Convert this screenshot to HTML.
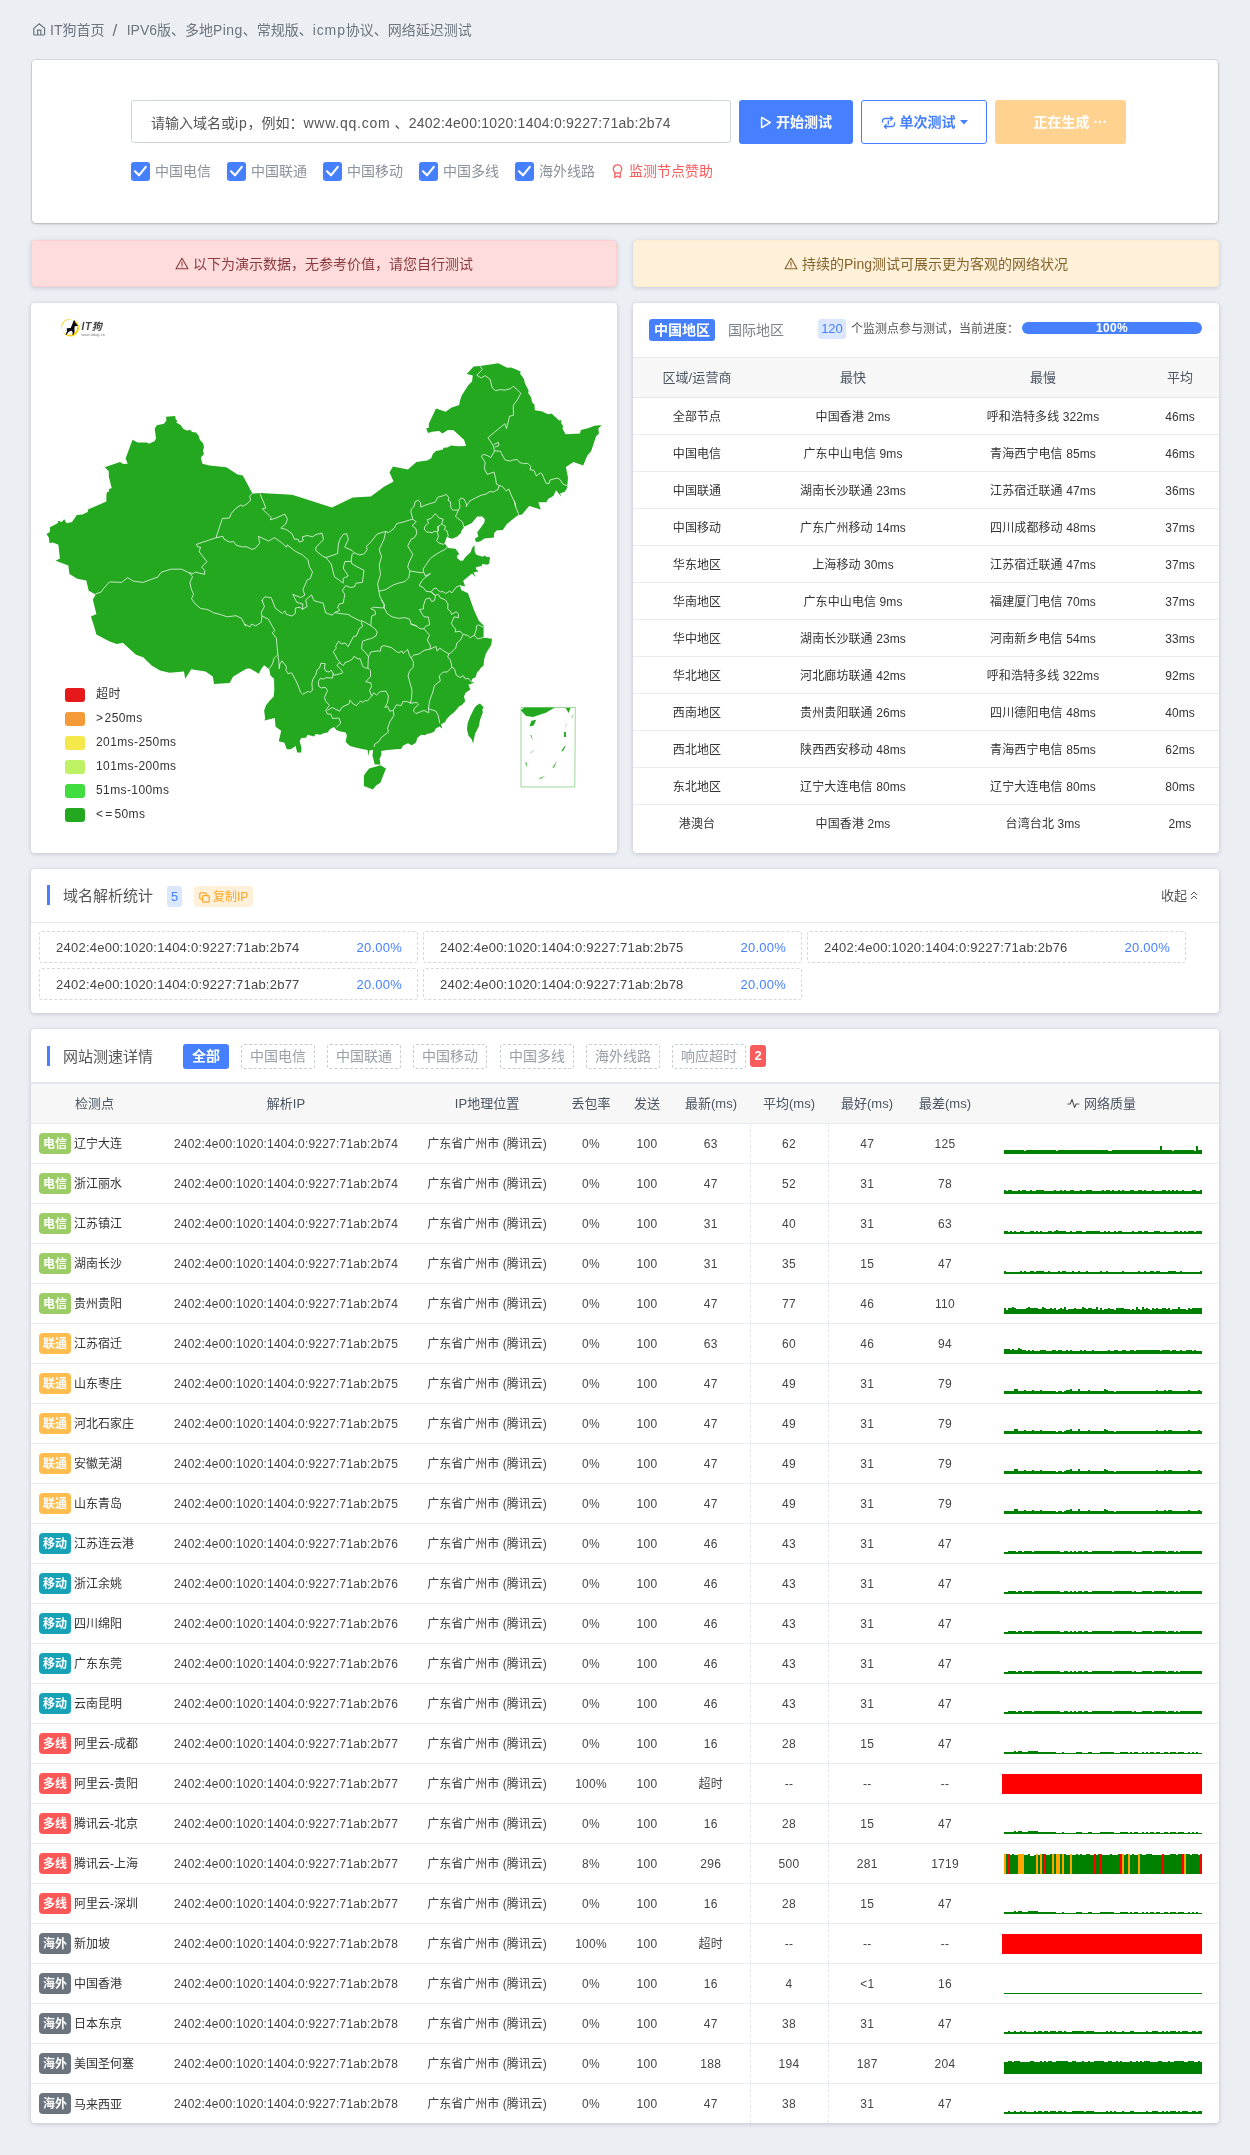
<!DOCTYPE html><html lang="zh-CN"><head><meta charset="utf-8"><title>IPV6 Ping</title><style>
*{box-sizing:border-box;margin:0;padding:0}
html,body{width:1250px;height:2155px;overflow:hidden}
body{will-change:transform;background:#ebeef3;font-family:"Liberation Sans","Noto Sans CJK SC",sans-serif;font-size:13px;color:#333;position:relative}
.abs{position:absolute}
.card{position:absolute;background:#fff;border-radius:4px;box-shadow:0 1px 4px rgba(110,120,145,.36)}
.in{position:absolute;left:1px;top:0;right:1px;bottom:0}
.bc{position:absolute;left:32px;top:20px;height:20px;line-height:20px;font-size:14px;color:#6c757d;white-space:nowrap}
.bc svg{position:absolute;left:1px;top:3px}
.inp{position:absolute;left:99px;top:40px;width:600px;height:43px;border:1px solid #ced4da;border-radius:3px;font-size:14px;line-height:44px;padding-left:19px;color:#555;white-space:nowrap}
.btn{position:absolute;top:40px;height:44px;line-height:45px;font-weight:bold;border-radius:3px;font-size:14px;text-align:center;white-space:nowrap}
.b1{left:707px;width:114px;background:#4680ff;color:#fff}
.b2{left:829px;width:126px;border:1px solid #4680ff;color:#4680ff;line-height:43px}
.b3{left:963px;width:131px;background:#ffd28f;color:#fff}
.chk{position:absolute;top:102px;height:19px;line-height:19px;font-size:14px;color:#8a929b;white-space:nowrap}
.chk i{position:absolute;left:0;top:0;width:19px;height:19px;border-radius:3px;background:#4680ff}
.chk span{position:absolute;left:24px;top:0}
.alert{position:absolute;top:240px;height:47px;line-height:47px;width:586px;border-radius:4px;text-align:center;font-size:14px;white-space:nowrap;box-shadow:0 1px 4px rgba(110,120,145,.3)}
.a1{left:31px;background:#fedcdc;color:#8b3a3f;border:1px solid #fbd0d0}
.a2{left:633px;background:#fff0d9;color:#85632a;border:1px solid #fdebcf}
.lg{position:absolute;left:33px;width:20px;height:14px;border-radius:3px}
.lt{position:absolute;left:64px;font-size:12px;line-height:14px;color:#333;white-space:nowrap;letter-spacing:.4px}
.st{position:absolute;left:0;top:54px;width:586px;border-collapse:collapse;table-layout:fixed;font-size:12px;line-height:20px;text-align:center;letter-spacing:.1px}
.st th{height:40px;background:#f7f7f8;font-weight:normal;color:#4a5562;font-size:13px;border-top:1px solid #e6eaf0;border-bottom:1px solid #e6eaf0}
.st td{height:37px;padding-top:2px;border-bottom:1px solid #e9ecf1;color:#333}
.st tr:last-child td{border-bottom:none}
.ttl{position:absolute;left:15px;width:3px;height:20px;background:#4680ff}
.tt{position:absolute;left:31px;font-size:15px;line-height:22px;color:#555;white-space:nowrap}
.ipb{position:absolute;width:379px;height:32px;border:1px dashed #d5d9df;border-radius:3px;font-size:13px;line-height:31px;white-space:nowrap;letter-spacing:.24px}
.ipb span{position:absolute;left:16px;top:0;color:#444}
.ipb b{position:absolute;right:15px;top:0;color:#4680ff;font-weight:normal}
.fb{position:absolute;top:15px;height:25px;line-height:23px;width:74px;border:1px dashed #c8cdd4;border-radius:3px;color:#98a0a8;font-size:14px;text-align:center;white-space:nowrap}
.mt{position:absolute;left:-1px;top:53px;width:1188px;border-collapse:collapse;table-layout:fixed;font-size:12px;line-height:20px;text-align:center}
.mt th{height:40px;background:#f7f7f8;font-weight:normal;color:#4a5562;font-size:13px;border-top:2px solid #e4e8ee;border-bottom:1px solid #e6eaf0;white-space:nowrap;padding:2px 0 0}
.mt td{height:40px;border-bottom:1px solid #e9ecf1;color:#444;white-space:nowrap;padding:2px 0 0;position:relative}
.mt tr:last-child td{border-bottom:none}
.mt td.n{text-align:left;padding-left:8px;color:#333}
.mt td.ip{letter-spacing:.2px}
.mt td.nu{letter-spacing:.25px}
.mt td.d{border-left:1px dashed #e3e7ee;border-right:1px dashed #e3e7ee}
.bd{display:inline-block;width:32px;height:21px;line-height:23.4px;overflow:hidden;border-radius:4px;color:#fff;font-weight:bold;font-size:12px;text-align:center;margin-right:3px;vertical-align:middle;position:relative;top:-1px}
.nm{vertical-align:middle}
.g1{background:#9ccc65}.g2{background:#ffbc4f}.g3{background:#17a2b8}.g4{background:#fa5757}.g5{background:#6c757d}
.sp{position:absolute;left:18px;top:-1px;display:block}
</style></head><body>
<div class="bc"><svg width="13" height="13" viewBox="0 0 13 13" fill="none" stroke="#6c757d" stroke-width="1.2"><path d="M.8 5.4 L6.2 .8 L11.6 5.4 V11 Q11.6 12 10.6 12 H1.8 Q.8 12 .8 11 Z"/><path d="M4.6 12 V7.2 H7.8 V12"/></svg><span style="margin-left:18px">IT狗首页</span><span style="margin:0 9.5px 0 8px;font-size:17px;position:relative;top:1px">/</span><span>IPV6版、多地<span style="letter-spacing:.4px">Ping</span>、常规版、<span style="letter-spacing:.9px">icmp</span>协议、网络延迟测试</span></div>
<div class="card" style="left:32px;top:60px;width:1186px;height:163px;box-shadow:0 0 0 .6px rgba(0,0,0,.13),0 1px 3px rgba(60,60,70,.28)">
<div class="inp">请输入域名或<span style="letter-spacing:.8px">ip</span>，例如：<span style="letter-spacing:.75px">www.qq.com</span><span style="letter-spacing:.25px"> 、2402:4e00:1020:1404:0:9227:71ab:2b74</span></div>
<div class="btn b1"><svg width="12" height="13" viewBox="0 0 12 13" style="vertical-align:-1.5px;margin-right:4px" fill="none" stroke="#fff" stroke-width="1.5" stroke-linejoin="round"><path d="M1.6 1.4 L10.2 6.5 L1.6 11.6 Z"/></svg>开始测试</div>
<div class="btn b2"><svg width="15" height="13" viewBox="0 0 15 13" style="vertical-align:-2px;margin-right:4px" fill="none" stroke="#4680ff" stroke-width="1.4" stroke-linecap="round"><path d="M1.5 6 V5 A2.5 2.5 0 0 1 4 2.5 H11.5 M9.8 0.8 L11.6 2.5 L9.8 4.2"/><path d="M13.5 7 V8 A2.5 2.5 0 0 1 11 10.5 H3.5 M5.2 8.8 L3.4 10.5 L5.2 12.2"/><path d="M7.3 5 V8"/></svg>单次测试<svg width="8" height="5" viewBox="0 0 8 5" style="vertical-align:2px;margin-left:4px"><path d="M0 0 H8 L4 4.5 Z" fill="#4680ff"/></svg></div>
<div class="btn b3" style="padding-left:20px">正在生成 ···</div>
<div class="chk" style="left:99px"><i><svg width="19" height="19" viewBox="0 0 19 19" fill="none" stroke="#fff" stroke-width="2.1" stroke-linecap="round" stroke-linejoin="round"><path d="M4 9.3 L8 13.3 L14.8 4.9"/></svg></i><span>中国电信</span></div>
<div class="chk" style="left:195px"><i><svg width="19" height="19" viewBox="0 0 19 19" fill="none" stroke="#fff" stroke-width="2.1" stroke-linecap="round" stroke-linejoin="round"><path d="M4 9.3 L8 13.3 L14.8 4.9"/></svg></i><span>中国联通</span></div>
<div class="chk" style="left:291px"><i><svg width="19" height="19" viewBox="0 0 19 19" fill="none" stroke="#fff" stroke-width="2.1" stroke-linecap="round" stroke-linejoin="round"><path d="M4 9.3 L8 13.3 L14.8 4.9"/></svg></i><span>中国移动</span></div>
<div class="chk" style="left:387px"><i><svg width="19" height="19" viewBox="0 0 19 19" fill="none" stroke="#fff" stroke-width="2.1" stroke-linecap="round" stroke-linejoin="round"><path d="M4 9.3 L8 13.3 L14.8 4.9"/></svg></i><span>中国多线</span></div>
<div class="chk" style="left:483px"><i><svg width="19" height="19" viewBox="0 0 19 19" fill="none" stroke="#fff" stroke-width="2.1" stroke-linecap="round" stroke-linejoin="round"><path d="M4 9.3 L8 13.3 L14.8 4.9"/></svg></i><span>海外线路</span></div>
<div class="chk" style="left:580px;color:#fa5c5c"><svg width="11" height="15" viewBox="0 0 11 15" style="position:absolute;left:0;top:2px" fill="none" stroke="#fa5c5c" stroke-width="1.3" stroke-linejoin="round"><circle cx="5.5" cy="5" r="4.2"/><path d="M2.8 8.2 V13.5 L5.5 12 L8.2 13.5 V8.2"/></svg><span style="left:17px">监测节点赞助</span></div>
</div>
<div class="alert a1"><svg width="14" height="13" viewBox="0 0 14 13" style="vertical-align:-1px;margin-right:4px" fill="none" stroke="currentColor" stroke-width="1.1" stroke-linejoin="round" stroke-linecap="round"><path d="M7 1.2 L13 11.8 H1 Z"/><path d="M7 5 V8.2 M7 9.8 V10"/></svg>以下为演示数据，无参考价值，请您自行测试</div>
<div class="alert a2"><svg width="14" height="13" viewBox="0 0 14 13" style="vertical-align:-1px;margin-right:4px" fill="none" stroke="currentColor" stroke-width="1.1" stroke-linejoin="round" stroke-linecap="round"><path d="M7 1.2 L13 11.8 H1 Z"/><path d="M7 5 V8.2 M7 9.8 V10"/></svg>持续的Ping测试可展示更为客观的网络状况</div>
<div class="card" style="left:31px;top:303px;width:586px;height:550px;overflow:hidden"><div class="in">
<svg class="abs" style="left:0;top:0" width="585" height="550" viewBox="0 0 585 550">
<g fill="#24a820" stroke="none">
<polygon points="134.1,113.8 143.2,113.0 143.7,116.5 145.3,117.8 144.3,119.4 148.8,122.3 151.2,125.8 154.4,127.4 158.4,126.9 160.0,129.0 164.0,129.5 166.4,132.2 168.0,137.0 171.2,140.5 172.0,144.2 170.9,147.9 172.0,151.1 168.8,154.6 170.4,160.7 177.6,162.6 194.4,164.2 205.6,171.4 210.8,172.6 220.4,190.6 228.8,190.1 260.0,191.8 272.0,195.4 293.6,202.6 300.0,204.5 320.8,194.6 338.8,193.4 352.0,183.8 361.6,178.5 357.5,169.4 360.9,163.4 376.0,166.5 384.4,159.1 395.2,157.6 399.2,155.2 400.8,150.9 404.0,148.0 410.4,146.7 411.7,144.8 415.2,144.5 419.2,142.4 426.4,143.2 434.1,142.9 432.0,136.8 421.6,127.2 416.0,126.9 410.4,130.4 407.2,128.0 400.0,128.8 396.0,130.1 394.1,125.6 396.8,124.8 396.8,120.8 404.0,105.6 413.6,108.8 419.2,104.8 427.2,101.9 427.7,98.4 429.6,92.8 436.0,82.4 440.0,78.4 440.8,72.5 434.7,70.9 441.6,63.5 448.0,62.9 466.4,60.3 475.2,64.8 479.2,64.5 484.8,66.7 488.8,68.8 488.0,70.4 492.0,76.0 492.8,80.0 496.8,88.0 496.0,89.6 499.2,94.4 500.0,99.2 502.4,101.6 502.9,107.2 509.6,108.3 516.0,111.2 519.5,110.4 527.2,117.6 529.6,117.3 529.1,120.0 531.2,123.2 530.4,125.6 533.6,131.2 548.0,130.4 548.8,126.9 556.0,125.3 562.4,122.7 569.6,122.1 566.4,125.6 566.9,130.4 564.0,133.6 559.2,148.0 555.2,152.8 551.2,162.4 541.6,158.9 533.9,164.0 536.0,174.4 535.2,184.8 532.8,188.8 528.0,190.4 529.6,194.1 524.0,187.2 521.6,192.8 516.0,196.0 514.4,199.2 506.4,199.2 508.7,206.6 497.2,203.0 490.0,211.4 486.0,212.2 484.8,213.0 474.8,221.0 470.8,227.0 464.4,227.4 462.0,230.6 462.0,234.6 452.4,235.4 448.0,238.6 444.0,239.0 442.8,235.8 446.4,233.4 445.2,229.4 452.4,219.4 452.8,216.2 450.4,213.4 445.2,213.4 439.6,220.2 432.4,223.4 429.6,227.4 428.8,230.2 425.2,233.4 420.4,235.8 416.0,234.6 415.2,233.0 412.8,239.4 412.8,240.6 416.0,245.0 423.6,245.8 427.2,251.0 424.8,253.0 425.6,255.4 428.4,257.8 431.2,257.4 433.2,254.2 438.8,249.0 440.0,245.0 442.4,242.2 442.8,249.0 444.4,251.8 450.8,253.8 453.2,252.2 454.0,253.8 458.0,254.2 457.2,260.6 455.6,261.8 450.4,261.0 449.6,263.0 444.0,264.2 444.0,266.2 446.8,268.2 441.6,269.4 443.6,274.2 440.0,270.6 431.2,277.8 433.2,283.4 428.0,282.2 429.2,287.0 436.0,290.2 442.0,307.0 446.8,317.8 451.6,322.6 451.6,334.6 460.0,335.8 459.3,341.8 454.0,350.2 452.0,357.0 451.6,362.6 448.0,365.8 447.2,367.4 445.2,369.0 443.6,374.2 440.4,375.8 439.6,378.2 442.0,379.8 436.4,381.8 438.4,386.6 433.6,389.8 432.0,393.4 433.2,398.6 428.8,403.0 428.0,402.6 422.4,409.0 419.2,411.4 414.8,415.8 413.2,419.0 409.6,421.0 408.8,421.0 410.4,425.4 407.2,423.4 403.6,425.8 402.4,428.6 398.8,430.2 394.4,431.0 393.6,432.2 389.2,431.8 385.2,435.0 384.4,438.6 383.2,440.2 379.6,442.2 376.0,440.2 371.2,442.6 369.2,445.8 368.0,446.2 366.8,445.9 355.6,447.0 349.2,448.1 349.5,451.8 347.6,455.8 348.4,461.4 342.8,461.4 340.4,452.6 341.2,447.0 337.2,447.5 336.4,453.4 335.6,447.0 330.0,445.9 323.6,444.6 318.0,443.0 313.7,439.0 314.8,432.6 313.7,429.4 307.6,428.3 304.4,427.0 302.0,424.1 298.0,426.2 295.6,429.4 291.6,430.2 288.4,431.8 283.6,431.0 282.0,433.4 275.6,431.8 274.0,434.7 269.2,435.0 267.6,438.2 269.5,444.6 269.2,449.4 265.2,449.4 263.6,443.0 258.8,446.2 254.8,446.2 252.4,439.8 246.8,438.2 249.2,427.8 243.6,423.8 242.8,415.0 232.4,417.4 233.2,415.0 232.1,407.8 234.0,402.2 237.2,398.2 241.7,393.4 242.3,387.0 242.0,375.8 238.5,372.6 237.2,366.2 232.1,362.2 229.2,365.9 226.8,370.7 218.0,365.4 214.4,365.7 201.2,373.4 197.6,379.9 182.0,381.1 180.8,373.4 173.6,368.6 159.2,366.2 153.2,375.8 152.0,368.6 137.6,369.8 128.0,367.4 119.6,362.6 111.2,354.2 104.0,351.8 90.8,339.8 84.8,341.0 77.6,338.6 64.4,331.4 62.0,323.0 58.9,313.4 64.4,311.0 60.8,296.6 63.7,291.4 56.7,287.8 54.3,277.5 45.2,275.8 37.5,271.0 36.3,262.6 23.6,257.8 27.9,255.4 26.4,241.8 20.8,239.4 17.6,240.2 16.8,234.6 14.4,231.1 17.9,229.0 17.9,224.2 25.6,220.2 26.4,217.8 29.6,218.9 32.3,216.2 34.4,220.2 40.0,218.9 44.8,211.9 50.4,211.6 55.7,209.0 56.0,206.6 74.4,198.6 74.4,191.4 75.2,189.0 77.1,188.5 76.8,186.3 79.7,185.0 76.8,173.8 76.8,168.2 72.8,164.2 88.0,158.9 91.2,161.0 95.7,160.7 93.6,155.4 100.5,136.7 105.6,139.4 115.2,139.4 116.8,140.7 122.4,138.3 124.0,135.4 122.7,125.8 124.8,122.3 132.0,120.7 134.4,117.5"/>
<polygon points="337.2,465.4 348.4,462.2 354.0,465.4 350.8,473.4 348.4,479.8 344.4,482.2 340.9,486.5 331.9,483.0 331.9,472.6 334.0,469.4"/>
<polygon points="448.0,400.6 451.6,404.2 450.4,406.6 450.8,409.4 448.0,417.0 446.8,423.4 443.2,430.6 442.0,435.8 441.2,440.6 439.6,436.2 436.4,432.6 435.0,426.6 435.6,420.2 438.4,413.0 442.4,405.0 444.8,402.2"/>
</g>
<g fill="none" stroke="#fff" stroke-opacity=".85" stroke-width=".85" stroke-linejoin="round">
<polyline points="158.0,270.3 149.6,266.2 138.8,266.2 129.2,269.3 125.6,274.1 111.2,279.4 101.6,278.2 95.6,274.6 89.6,279.4 77.6,278.9 71.6,285.4 69.2,289.0 63.7,290.9"/>
<polyline points="447.9,63.1 450.5,66.3 444.7,72.2 449.2,74.9 453.2,72.7 458.0,76.2 460.4,85.0 463.6,87.7 468.4,86.6 473.2,87.1 478.8,85.5 481.2,83.1 485.2,86.6 488.9,90.3 485.7,96.2 481.2,102.6 481.5,112.2 477.5,113.3 474.5,125.5 472.9,120.7 455.9,134.6 461.2,142.6 462.5,147.9"/>
<polyline points="461.2,142.6 462.8,141.0 466.5,139.4 466.8,142.6 462.8,144.2"/>
<polyline points="462.5,147.9 468.4,148.2 470.8,153.0 473.2,157.0 478.0,158.1 481.2,157.0 485.2,156.5 487.6,159.4 491.6,160.7 495.6,160.2 498.8,163.4 498.0,166.6 502.0,167.4 504.4,173.0 508.4,169.8 510.0,170.9 514.0,180.2 517.2,180.5 518.0,177.0 523.6,175.4 526.0,175.1 528.4,177.0 530.8,181.0 534.8,182.6 535.9,181.5"/>
<polyline points="462.5,147.9 458.8,154.6 455.6,152.7 451.6,151.4 449.2,153.0 453.2,159.4 452.4,165.8 455.3,171.4 462.0,169.0 463.6,175.4 464.4,181.0 467.1,182.6"/>
<polyline points="467.1,182.6 470.3,183.4 474.5,188.2 476.7,185.8 479.6,193.0 482.8,199.4 483.6,204.0"/>
<polyline points="467.1,182.6 466.0,186.6 461.2,189.0 458.0,188.5 454.0,191.1 449.2,192.2 443.6,194.9 438.0,197.8 435.1,201.8 434.0,204.0"/>
<polyline points="220.3,190.6 217.6,193.0 218.7,197.0 214.9,201.0 210.4,203.4 209.1,201.8 203.2,205.8 199.2,210.6 197.3,215.1 190.4,215.4 187.2,225.0 184.5,233.0 184.5,234.6"/>
<polyline points="184.5,234.6 164.5,241.3 165.6,243.9 168.5,244.2 167.2,248.7 174.9,258.6 169.6,264.2 172.8,267.4 172.3,271.4 163.2,269.0 161.6,270.6 157.6,269.8"/>
<polyline points="157.6,269.8 160.5,273.8 157.9,279.4 159.2,285.8 161.6,291.4 159.5,295.7 163.2,301.0 168.8,305.5 176.0,306.6 181.6,309.8 188.0,311.4 195.2,313.8 204.0,312.7 209.6,315.4 213.6,323.4"/>
<polyline points="184.5,234.6 190.9,233.3 192.0,236.2 197.6,239.1 201.6,238.6 204.3,242.3 210.4,243.9 215.2,243.9 219.7,246.3 223.2,245.5 227.7,240.2 226.4,233.3 236.8,238.1 242.4,234.6 250.4,240.2 254.4,244.2 255.2,241.8 263.2,248.2 270.4,251.9 276.0,257.0 277.3,263.4 280.5,269.0 278.4,275.4 275.2,277.0 270.9,286.6 272.8,292.2 268.8,294.6 260.8,291.4 264.8,299.4 270.9,301.0 270.4,306.3 275.2,303.4 273.6,297.0 279.5,291.9 282.1,297.8 291.2,300.2 293.6,309.8 300.0,312.2 302.9,309.5"/>
<polyline points="228.0,190.6 233.9,205.0 230.4,205.8 239.2,214.6 238.4,216.7 243.2,215.4 252.8,211.1 255.5,216.2 253.6,221.0 248.8,225.0 254.4,226.6 260.0,230.6 262.4,236.2 266.1,236.2 267.2,239.1 271.2,237.8 270.4,233.8 275.2,232.5 280.8,233.8 284.0,231.4 290.1,230.3 291.5,236.5 284.0,244.2 283.7,247.4 290.4,253.0 293.9,254.6"/>
<polyline points="293.9,254.6 305.6,250.6 306.4,241.0 308.0,236.2 311.2,231.4 314.7,230.6 316.3,236.2 312.8,244.2 320.0,247.4 322.4,249.8 320.0,251.4 319.2,258.3 312.8,258.6 311.2,265.0 313.6,269.0 316.3,273.0 311.2,275.4 311.2,280.2 306.1,276.2 302.4,273.8 299.2,261.0 293.9,254.6"/>
<polyline points="322.4,249.8 328.0,252.2"/>
<polyline points="319.2,258.3 320.0,261.0 332.0,267.4 330.4,279.4 324.0,280.2 322.4,283.9 318.4,284.5 313.6,282.6 310.4,287.4 312.8,291.4 311.2,300.2 307.2,301.0 305.6,305.0 308.0,307.4 302.9,309.5"/>
<polyline points="302.9,309.5 308.0,310.6 316.0,311.4 320.8,314.3 328.0,317.8"/>
<polyline points="229.6,297.8 232.8,293.8 239.2,294.6 243.2,305.0 250.4,310.6 252.8,307.9 254.4,311.4 260.0,313.0 263.2,310.6 263.5,305.0 268.0,304.2 270.4,306.3"/>
<polyline points="353.6,228.5 356.8,229.5 362.4,225.0 364.8,220.5 372.0,218.9 377.6,217.0 380.8,216.2 378.9,209.0 379.5,205.5 382.1,203.4 383.2,198.6 386.4,197.3 388.5,199.4 388.8,204.2 392.0,202.6 397.6,200.7 403.2,199.1 405.6,194.3 411.2,192.7 414.4,191.4 416.8,194.6 416.0,197.5 418.4,198.6 418.9,205.0 420.8,207.1 426.4,207.1 428.0,204.2 427.2,197.5 429.1,194.9 432.3,196.2 434.9,202.3"/>
<polyline points="482.4,197.8 484.0,205.0 486.4,210.6 486.7,211.9"/>
<polyline points="426.4,207.1 423.5,213.5 430.4,218.9 432.0,224.2"/>
<polyline points="353.6,228.5 352.0,236.2 347.2,246.6 349.6,253.8 347.2,261.8 348.5,271.4 345.6,281.0 346.9,288.2"/>
<polyline points="380.8,216.2 384.3,218.9 380.0,222.6 384.0,225.8 384.8,230.6 382.4,234.6 379.2,236.2 375.7,242.9 378.4,247.4 380.8,251.4 376.8,260.2 375.7,264.2 377.9,267.9"/>
<polyline points="346.9,288.2 353.6,286.6 361.6,281.8 366.4,280.2 372.8,278.6 376.8,274.6 377.9,267.9"/>
<polyline points="377.9,267.9 384.0,269.0 389.6,269.8 391.7,269.0"/>
<polyline points="391.7,269.0 391.2,265.8 395.2,260.2 398.4,255.4 403.2,251.9 408.0,249.0 412.8,246.6 415.7,243.9"/>
<polyline points="403.2,210.6 399.2,215.4 395.2,216.7 396.5,220.2 392.8,223.4 392.3,226.6 394.9,229.0 400.8,229.8 401.9,228.2 404.8,229.0 406.4,227.4 405.6,223.4 408.0,222.6 409.6,221.0 411.2,216.2 407.2,215.1 403.2,210.6"/>
<polyline points="406.4,223.4 405.6,229.8 406.4,233.8 404.5,237.8 407.2,240.2 411.2,241.3 413.6,240.2"/>
<polyline points="409.6,221.0 412.0,222.6 413.6,223.4 412.5,226.6 415.2,228.2 416.0,232.2 416.8,233.3"/>
<polyline points="391.7,269.0 393.3,273.0 398.4,270.6 392.8,274.6 389.6,278.1 387.2,282.6 391.2,284.5 393.9,288.2 399.2,289.0"/>
<polyline points="346.9,288.2 348.0,293.8 352.0,301.0 352.3,305.0 355.2,310.6 360.0,313.8 366.4,315.4 372.8,314.6 377.6,316.2 379.2,321.0 384.8,323.4"/>
<polyline points="328.0,251.9 332.0,250.9 335.2,246.6 334.4,243.4 339.2,238.6 344.8,231.4 348.8,229.8 353.6,228.5"/>
<polyline points="212.4,321.0 218.0,323.9 219.6,321.0 223.6,322.9 229.2,319.4 230.0,313.0"/>
<polyline points="230.0,313.0 229.2,309.8 232.4,303.4 230.0,297.0"/>
<polyline points="230.0,313.0 236.4,316.2 240.4,323.4 242.8,327.4 240.4,329.8 244.4,335.4 245.2,345.0 246.0,353.0 246.8,358.6 247.3,365.8"/>
<polyline points="245.2,352.2 242.0,355.4 240.4,361.0 237.2,365.8"/>
<polyline points="247.3,365.8 247.9,361.0 250.0,357.8 254.3,363.4 254.0,367.4 255.9,370.6 259.6,369.8 263.6,377.0 266.8,384.2 268.4,389.0 270.8,391.4 276.4,388.2 277.7,389.5 280.4,387.4 279.9,380.2 280.9,376.2 283.6,372.2 285.2,366.6 287.6,365.0 288.9,360.2 293.2,360.7 292.4,365.0 293.7,368.2 297.2,369.0 299.1,367.1 301.2,370.6 300.4,375.1 294.0,374.6 291.6,376.2 288.4,375.4 286.3,378.6 286.8,383.4 289.2,385.0 293.2,384.2 295.6,387.4 292.4,394.6 294.0,398.6 297.5,402.3 295.3,405.0 293.7,407.4 295.3,410.9"/>
<polyline points="301.2,370.6 302.0,372.2 310.0,370.3 310.8,369.3 308.4,365.8 304.9,362.6 307.1,359.4 311.3,362.6 313.2,359.4 316.1,358.6 320.4,356.2 322.0,353.3 326.0,355.9 327.9,355.4 330.8,363.4 333.2,365.0 335.9,365.0"/>
<polyline points="308.4,359.4 305.5,356.5 302.8,351.4 301.2,349.0 304.4,345.0 303.6,343.4 306.5,338.3 310.0,341.0 313.2,339.9 316.1,343.7 319.6,337.0 321.5,333.5 324.4,333.0 327.3,325.8 330.5,323.4 328.9,317.5"/>
<polyline points="328.9,317.5 333.2,319.4 338.8,322.6 339.6,313.0 343.6,311.4 342.8,307.4 338.8,305.8 341.2,304.2 351.6,305.0 352.4,301.8 349.2,297.0"/>
<polyline points="338.8,322.6 342.8,325.8 345.2,329.0 343.9,333.0 339.6,335.4 334.8,336.7 330.5,338.3 329.5,345.8 333.2,349.0 336.4,353.8"/>
<polyline points="336.4,353.8 335.9,365.0"/>
<polyline points="336.4,353.8 338.8,349.0 345.2,347.9 348.4,348.2 349.2,343.7 351.9,342.6 359.6,344.7 364.4,348.5 366.8,349.8 370.0,347.9 371.1,350.6 375.6,346.3 377.2,351.4 378.8,354.9"/>
<polyline points="335.9,365.0 338.5,367.4 338.5,373.8 333.7,378.6 338.8,379.9 339.6,383.4 337.5,387.4 339.1,391.4 339.6,393.0"/>
<polyline points="295.3,407.4 300.4,404.5 307.6,408.2 310.0,404.2 317.2,400.7 318.0,397.0 321.2,401.0 324.4,402.6 328.4,398.1 330.8,399.4 333.2,397.5 335.6,397.8 339.6,393.0"/>
<polyline points="339.6,393.0 342.0,389.8 344.4,392.2 348.4,388.5 354.0,388.2 356.4,393.0 355.6,399.4 352.9,404.5 355.6,403.4 357.7,408.2 361.2,407.4"/>
<polyline points="295.3,410.9 299.1,411.4 300.4,415.4 307.1,415.1 308.7,420.2 304.4,424.2"/>
<polyline points="361.2,407.4 362.0,412.2 358.0,418.6 355.6,425.0 356.4,429.0 349.2,434.6 346.8,438.6 342.8,441.0 342.0,444.0"/>
<polyline points="361.2,407.4 364.4,401.8 369.2,402.6 370.8,398.6 375.6,398.6 378.8,400.2"/>
<polyline points="399.2,289.0 401.6,285.8 404.0,285.0 408.0,289.0 410.9,288.5 413.6,290.6 417.6,288.2 420.0,289.8 424.0,284.2 428.0,282.6 428.8,283.7"/>
<polyline points="399.2,289.0 403.2,292.2 406.4,291.4 408.0,294.6 413.6,297.0 416.0,301.0 415.7,305.8 418.9,309.0 419.5,311.4 424.3,308.7 426.4,310.9 426.4,314.6 422.1,313.8 420.8,317.0 419.2,319.9 421.6,324.2 423.7,325.8 423.2,329.0 428.0,328.2 431.2,331.4"/>
<polyline points="399.2,289.0 403.5,293.0 402.4,297.5 399.7,298.6 397.6,294.9 393.6,296.2 391.2,303.4 391.7,305.8 387.5,306.6 390.4,311.4 392.0,313.8 396.5,314.1 397.6,321.8 393.6,323.4 392.0,325.8"/>
<polyline points="378.4,321.0 384.0,322.6 388.0,325.8 392.0,325.8"/>
<polyline points="392.0,325.8 397.6,332.2 395.2,337.0 398.4,342.6 398.1,346.1"/>
<polyline points="431.2,331.4 428.5,337.0 424.8,340.2 423.7,345.0 418.9,349.8 416.8,350.9"/>
<polyline points="398.1,346.1 404.0,343.4 405.1,348.2 407.7,345.0 410.9,347.4 416.8,350.9"/>
<polyline points="431.2,331.4 435.2,332.2 438.4,334.6 442.4,332.2 444.5,325.8 444.0,323.4 446.4,321.8 451.2,324.2"/>
<polyline points="442.4,332.2 445.6,335.9 451.2,334.6 455.2,333.8"/>
<polyline points="398.1,346.1 392.0,347.4 387.2,350.9 381.6,352.2 379.2,354.6"/>
<polyline points="379.2,354.6 381.6,359.4 381.1,364.2 377.6,368.2 376.0,373.0 377.9,379.4 380.0,387.4 379.5,395.4 378.4,400.2"/>
<polyline points="416.8,350.9 415.7,353.8 418.4,357.0 420.0,364.2"/>
<polyline points="420.0,364.2 422.4,365.8 424.3,372.2 428.0,374.6 431.2,372.7 433.3,375.9 436.0,375.4 440.3,379.4"/>
<polyline points="420.0,364.2 415.2,369.0 411.2,369.0 407.2,373.0 408.3,377.8 402.4,382.6 400.8,389.0 397.6,397.8 396.5,405.0 396.8,409.8"/>
<polyline points="378.4,400.2 384.8,399.4 386.4,401.8 382.4,405.0 381.6,408.2 384.0,410.6 392.0,407.4 396.5,409.8"/>
<polyline points="396.8,405.8 404.0,408.2 406.4,413.0 407.7,420.2"/>
</g>
<g transform="translate(-32,-303)">
<path d="M521 707.5 H575.3 L574.8 787 H521 Z" fill="none" stroke="#24a820" stroke-opacity=".5" stroke-width=".9"/>
<g fill="#24a820"><path d="M520.8 710.2 L524.4 707.4 H554.8 L545.8 712.8 L533 717 L526 716 Z"/><path d="M565.7 708 H570.5 L568.6 713.1 Z"/><path d="M531.4 720.8 L536.2 719.8 L533.7 725.6 L529.5 726.6 Z"/><path d="M564 732 h1.9 v5.1 h-1.9 Z"/><path d="M565.7 746.1 L564.1 746.4 L561.2 751.5 L563.1 750.9 Z"/></g>
<g fill="#24a820" fill-opacity=".75"><path d="M573.6 712.8 L571.4 717.9 L572.2 717.9 Z"/><path d="M567.5 722.1 L565 726.9 L565.8 726.6 Z"/><path d="M557 760.8 L552.2 767.5 L554.2 767.8 Z"/><path d="M545.2 775.8 L538.2 778.4 L541.4 778.7 Z"/><path d="M525 762.1 L527 763 L526.8 767.2 Z"/><path d="M530.2 734.9 L531.8 735.2 L532.7 741 L531.6 738 Z"/><path d="M535.6 748 L530.2 753.1 L531.4 752.8 Z"/></g>
</g>
</svg>
<svg class="abs" style="left:28px;top:12px" width="52" height="26" viewBox="60 315 52 26"><path fill-rule="evenodd" fill="#fcd21c" d="M70.5 319.4 a8.6 8.6 0 1 0 .01 0 Z M69.3 319 a7.9 7.9 0 1 1 -.01 0 Z"/><path fill="#0a0a0a" d="M74.3 320.1 L75.4 322.6 L78 325.4 L76.6 325.9 L74.8 326.2 L74.4 329 L74.7 332.1 L73.3 334.7 L72.3 334.7 L72.7 332.4 L71.8 330.8 L69 331.6 L67.6 333 L66.6 334.8 L65.5 334.5 L67 331.3 L66.8 328.2 L70.7 327.9 L72.4 324 L73.5 320.9 Z"/></svg>
<span class="abs" style="left:49.6px;top:18.2px;font-size:10.2px;line-height:12px;font-weight:bold;font-style:italic;color:#444;white-space:nowrap;letter-spacing:.6px">IT狗</span><span class="abs" style="left:49.4px;top:30.3px;font-size:3.7px;line-height:5px;color:#777;white-space:nowrap;letter-spacing:.15px">www.itdog.cn</span>
<div class="lg" style="top:385px;background:#e6191a"></div><div class="lt" style="top:384px">超时</div>
<div class="lg" style="top:409px;background:#f59a38"></div><div class="lt" style="top:408px"><span style="letter-spacing:1.6px">&gt;</span>250ms</div>
<div class="lg" style="top:433px;background:#f5e84a"></div><div class="lt" style="top:432px">201ms-250ms</div>
<div class="lg" style="top:457px;background:#bef264"></div><div class="lt" style="top:456px">101ms-200ms</div>
<div class="lg" style="top:481px;background:#40dc40"></div><div class="lt" style="top:480px">51ms-100ms</div>
<div class="lg" style="top:505px;background:#24a820"></div><div class="lt" style="top:504px"><span style="letter-spacing:2.2px">&lt;=</span>50ms</div>
</div></div>
<div class="card" style="left:633px;top:303px;width:586px;height:550px;overflow:hidden">
<div class="abs" style="left:16px;top:16px;width:66px;height:22px;line-height:22px;background:#4680ff;color:#fff;font-weight:bold;font-size:14px;text-align:center;border-radius:3px">中国地区</div>
<div class="abs" style="left:95px;top:16px;height:22px;line-height:22px;color:#7a828a;font-size:14px;white-space:nowrap">国际地区</div>
<div class="abs" style="left:185px;top:16px;width:28px;height:20px;line-height:20px;background:#dbe6ff;color:#4680ff;font-size:13px;text-align:center;border-radius:3px">120</div>
<div class="abs" style="left:218px;top:16px;height:20px;line-height:20px;color:#555;font-size:12px;white-space:nowrap">个监测点参与测试，当前进度：</div>
<div class="abs" style="left:389px;top:19px;width:180px;height:12px;line-height:12px;background:#4680ff;color:#fff;font-weight:bold;font-size:12px;letter-spacing:.3px;text-align:center;border-radius:6px">100%</div>
<table class="st"><colgroup><col style="width:128px"><col style="width:184px"><col style="width:196px"><col style="width:78px"></colgroup>
<tr><th>区域/运营商</th><th>最快</th><th>最慢</th><th>平均</th></tr>
<tr><td>全部节点</td><td>中国香港 2ms</td><td>呼和浩特多线 322ms</td><td>46ms</td></tr>
<tr><td>中国电信</td><td>广东中山电信 9ms</td><td>青海西宁电信 85ms</td><td>46ms</td></tr>
<tr><td>中国联通</td><td>湖南长沙联通 23ms</td><td>江苏宿迁联通 47ms</td><td>36ms</td></tr>
<tr><td>中国移动</td><td>广东广州移动 14ms</td><td>四川成都移动 48ms</td><td>37ms</td></tr>
<tr><td>华东地区</td><td>上海移动 30ms</td><td>江苏宿迁联通 47ms</td><td>37ms</td></tr>
<tr><td>华南地区</td><td>广东中山电信 9ms</td><td>福建厦门电信 70ms</td><td>37ms</td></tr>
<tr><td>华中地区</td><td>湖南长沙联通 23ms</td><td>河南新乡电信 54ms</td><td>33ms</td></tr>
<tr><td>华北地区</td><td>河北廊坊联通 42ms</td><td>呼和浩特多线 322ms</td><td>92ms</td></tr>
<tr><td>西南地区</td><td>贵州贵阳联通 26ms</td><td>四川德阳电信 48ms</td><td>40ms</td></tr>
<tr><td>西北地区</td><td>陕西西安移动 48ms</td><td>青海西宁电信 85ms</td><td>62ms</td></tr>
<tr><td>东北地区</td><td>辽宁大连电信 80ms</td><td>辽宁大连电信 80ms</td><td>80ms</td></tr>
<tr><td>港澳台</td><td>中国香港 2ms</td><td>台湾台北 3ms</td><td>2ms</td></tr>
</table></div>
<div class="card" style="left:31px;top:869px;width:1188px;height:144px"><div class="in">
<div class="ttl" style="top:16px"></div><div class="tt" style="top:16px">域名解析统计</div>
<div class="abs" style="left:135px;top:17px;width:15px;height:21px;line-height:22px;background:#dbe6ff;color:#4680ff;font-size:13px;text-align:center;border-radius:3px">5</div>
<div class="abs" style="left:162px;top:17px;width:59px;height:21px;line-height:22px;background:#fff0d9;color:#f9a72b;font-size:12px;border-radius:3px;white-space:nowrap;padding-left:19px"><svg width="11" height="11" viewBox="0 0 11 11" class="abs" style="left:5px;top:5.5px" fill="none" stroke="#f9a72b" stroke-width="1.2"><rect x="3.6" y="3.6" width="6.6" height="6.6" rx="1"/><path d="M7.2 3.4 V1.8 A1 1 0 0 0 6.2 .8 H1.8 A1 1 0 0 0 .8 1.8 V6.2 A1 1 0 0 0 1.8 7.2 H3.4"/></svg>复制IP</div>
<div class="abs" style="left:1129px;top:17px;height:20px;line-height:20px;color:#555;font-size:13px;white-space:nowrap">收起<svg width="8" height="9" viewBox="0 0 8 9" style="margin-left:3px;vertical-align:0" fill="none" stroke="#555" stroke-width="1"><path d="M1 4 L4 1 L7 4 M1 8 L4 5 L7 8"/></svg></div>
<div class="abs" style="left:-1px;top:53px;width:1188px;height:1px;background:#e6eaf0"></div>
<div class="ipb" style="left:7px;top:62px"><span>2402:4e00:1020:1404:0:9227:71ab:2b74</span><b>20.00%</b></div>
<div class="ipb" style="left:391px;top:62px"><span>2402:4e00:1020:1404:0:9227:71ab:2b75</span><b>20.00%</b></div>
<div class="ipb" style="left:775px;top:62px"><span>2402:4e00:1020:1404:0:9227:71ab:2b76</span><b>20.00%</b></div>
<div class="ipb" style="left:7px;top:99px"><span>2402:4e00:1020:1404:0:9227:71ab:2b77</span><b>20.00%</b></div>
<div class="ipb" style="left:391px;top:99px"><span>2402:4e00:1020:1404:0:9227:71ab:2b78</span><b>20.00%</b></div>
</div></div>
<div class="card" style="left:31px;top:1029px;width:1188px;height:1094px;overflow:hidden"><div class="in">
<div class="ttl" style="top:17px"></div><div class="tt" style="top:17px">网站测速详情</div>
<div class="abs" style="left:151px;top:15px;width:46px;height:25px;line-height:25px;background:#4680ff;color:#fff;font-weight:bold;font-size:14px;text-align:center;border-radius:3px">全部</div>
<div class="fb" style="left:209px">中国电信</div>
<div class="fb" style="left:295px">中国联通</div>
<div class="fb" style="left:381px">中国移动</div>
<div class="fb" style="left:468px">中国多线</div>
<div class="fb" style="left:554px">海外线路</div>
<div class="fb" style="left:640px">响应超时</div>
<div class="abs" style="left:718px;top:16px;width:16px;height:22px;line-height:22px;background:#fa5c5c;color:#fff;font-weight:bold;font-size:13px;text-align:center;border-radius:3px">2</div>
<table class="mt"><colgroup><col style="width:127px"><col style="width:256px"><col style="width:146px"><col style="width:62px"><col style="width:50px"><col style="width:78px"><col style="width:78px"><col style="width:78px"><col style="width:78px"><col style="width:235px"></colgroup>
<tr><th>检测点</th><th>解析IP</th><th>IP地理位置</th><th>丢包率</th><th>发送</th><th>最新(ms)</th><th>平均(ms)</th><th>最好(ms)</th><th>最差(ms)</th><th><svg width="13" height="11" viewBox="0 0 13 11" style="vertical-align:-1px;margin-right:4px" fill="none" stroke="#555" stroke-width="1.1" stroke-linejoin="round" stroke-linecap="round"><path d="M.8 6 H3.2 L5 1.5 L7.6 9.5 L9.2 6 H12"/></svg>网络质量</th></tr>
<tr><td class="n"><span class="bd g1">电信</span><span class="nm">辽宁大连</span></td><td class="ip">2402:4e00:1020:1404:0:9227:71ab:2b74</td><td>广东省广州市 (腾讯云)</td><td class="nu">0%</td><td class="nu">100</td><td class="nu">63</td><td class="d nu">62</td><td class="nu">47</td><td class="nu">125</td><td><svg class="sp" width="200" height="40"><path d="M2 31V27 h2V27 h2V27 h2V27 h2V27 h2V27 h2V27 h2V27 h2V27 h2V27 h2V28 h2V27 h2V27 h2V27 h2V27 h2V27 h2V27 h2V27 h2V27 h2V27 h2V27 h2V27 h2V27 h2V27 h2V27 h2V27 h2V28 h2V27 h2V27 h2V27 h2V27 h2V27 h2V27 h2V27 h2V27 h2V27 h2V27 h2V27 h2V27 h2V27 h2V27 h2V27 h2V27 h2V27 h2V27 h2V27 h2V27 h2V27 h2V27 h2V27 h2V27 h2V27 h2V28 h2V28 h2V27 h2V27 h2V27 h2V27 h2V27 h2V27 h2V27 h2V27 h2V27 h2V27 h2V27 h2V27 h2V27 h2V27 h2V27 h2V27 h2V27 h2V27 h2V27 h2V27 h2V27 h2V27 h2V27 h2V27 h2V23 h2V27 h2V27 h2V27 h2V27 h2V27 h2V28 h2V27 h2V27 h2V27 h2V27 h2V27 h2V27 h2V27 h2V27 h2V27 h2V27 h2V28 h2V23 h2V27 h2V27 h2V31Z" fill="#008000"/></svg></td></tr>
<tr><td class="n"><span class="bd g1">电信</span><span class="nm">浙江丽水</span></td><td class="ip">2402:4e00:1020:1404:0:9227:71ab:2b74</td><td>广东省广州市 (腾讯云)</td><td class="nu">0%</td><td class="nu">100</td><td class="nu">47</td><td class="d nu">52</td><td class="nu">31</td><td class="nu">78</td><td><svg class="sp" width="200" height="40"><path d="M2 31V27 h2V28 h2V27 h2V27 h2V28 h2V28 h2V28 h2V27 h2V28 h2V27 h2V27 h2V28 h2V28 h2V27 h2V28 h2V28 h2V27 h2V27 h2V27 h2V27 h2V28 h2V28 h2V28 h2V28 h2V28 h2V27 h2V28 h2V28 h2V27 h2V28 h2V27 h2V28 h2V28 h2V27 h2V27 h2V28 h2V28 h2V28 h2V27 h2V28 h2V28 h2V27 h2V27 h2V27 h2V28 h2V28 h2V28 h2V28 h2V28 h2V27 h2V28 h2V27 h2V27 h2V28 h2V27 h2V28 h2V28 h2V27 h2V28 h2V27 h2V28 h2V28 h2V28 h2V27 h2V27 h2V28 h2V28 h2V27 h2V27 h2V28 h2V27 h2V28 h2V28 h2V28 h2V27 h2V28 h2V28 h2V28 h2V28 h2V27 h2V27 h2V28 h2V27 h2V28 h2V27 h2V28 h2V27 h2V28 h2V28 h2V27 h2V28 h2V28 h2V28 h2V28 h2V27 h2V27 h2V28 h2V28 h2V27 h2V31Z" fill="#008000"/></svg></td></tr>
<tr><td class="n"><span class="bd g1">电信</span><span class="nm">江苏镇江</span></td><td class="ip">2402:4e00:1020:1404:0:9227:71ab:2b74</td><td>广东省广州市 (腾讯云)</td><td class="nu">0%</td><td class="nu">100</td><td class="nu">31</td><td class="d nu">40</td><td class="nu">31</td><td class="nu">63</td><td><svg class="sp" width="200" height="40"><path d="M2 31V28 h2V28 h2V29 h2V28 h2V29 h2V28 h2V29 h2V29 h2V28 h2V28 h2V29 h2V29 h2V29 h2V28 h2V28 h2V29 h2V28 h2V29 h2V28 h2V29 h2V29 h2V29 h2V28 h2V28 h2V29 h2V28 h2V27 h2V28 h2V28 h2V28 h2V28 h2V29 h2V29 h2V28 h2V29 h2V29 h2V28 h2V28 h2V28 h2V29 h2V29 h2V28 h2V28 h2V28 h2V28 h2V28 h2V28 h2V28 h2V29 h2V29 h2V28 h2V29 h2V28 h2V29 h2V29 h2V28 h2V29 h2V28 h2V28 h2V29 h2V29 h2V29 h2V29 h2V29 h2V28 h2V29 h2V29 h2V28 h2V28 h2V29 h2V28 h2V28 h2V29 h2V29 h2V29 h2V28 h2V28 h2V28 h2V29 h2V29 h2V28 h2V29 h2V29 h2V29 h2V29 h2V28 h2V28 h2V29 h2V28 h2V29 h2V28 h2V29 h2V28 h2V28 h2V28 h2V29 h2V28 h2V28 h2V28 h2V31Z" fill="#008000"/></svg></td></tr>
<tr><td class="n"><span class="bd g1">电信</span><span class="nm">湖南长沙</span></td><td class="ip">2402:4e00:1020:1404:0:9227:71ab:2b74</td><td>广东省广州市 (腾讯云)</td><td class="nu">0%</td><td class="nu">100</td><td class="nu">31</td><td class="d nu">35</td><td class="nu">15</td><td class="nu">47</td><td><svg class="sp" width="200" height="40"><path d="M2 31V28 h2V29 h2V29 h2V29 h2V29 h2V29 h2V29 h2V29 h2V28 h2V29 h2V28 h2V29 h2V29 h2V28 h2V28 h2V29 h2V28 h2V28 h2V28 h2V28 h2V29 h2V29 h2V28 h2V29 h2V29 h2V29 h2V29 h2V28 h2V29 h2V28 h2V28 h2V29 h2V29 h2V29 h2V28 h2V29 h2V29 h2V28 h2V29 h2V29 h2V29 h2V28 h2V29 h2V29 h2V29 h2V29 h2V29 h2V29 h2V28 h2V29 h2V29 h2V28 h2V29 h2V29 h2V29 h2V29 h2V29 h2V29 h2V29 h2V28 h2V29 h2V29 h2V29 h2V29 h2V29 h2V29 h2V29 h2V28 h2V29 h2V29 h2V28 h2V29 h2V29 h2V28 h2V28 h2V29 h2V28 h2V28 h2V29 h2V29 h2V29 h2V29 h2V28 h2V28 h2V28 h2V28 h2V29 h2V29 h2V28 h2V29 h2V29 h2V29 h2V29 h2V29 h2V29 h2V29 h2V29 h2V29 h2V28 h2V31Z" fill="#008000"/></svg></td></tr>
<tr><td class="n"><span class="bd g1">电信</span><span class="nm">贵州贵阳</span></td><td class="ip">2402:4e00:1020:1404:0:9227:71ab:2b74</td><td>广东省广州市 (腾讯云)</td><td class="nu">0%</td><td class="nu">100</td><td class="nu">47</td><td class="d nu">77</td><td class="nu">46</td><td class="nu">110</td><td><svg class="sp" width="200" height="40"><path d="M2 31V25 h2V27 h2V25 h2V25 h2V24 h2V25 h2V26 h2V26 h2V26 h2V26 h2V26 h2V25 h2V24 h2V25 h2V25 h2V25 h2V25 h2V26 h2V26 h2V24 h2V25 h2V26 h2V26 h2V25 h2V26 h2V25 h2V27 h2V26 h2V25 h2V26 h2V24 h2V27 h2V26 h2V26 h2V26 h2V25 h2V26 h2V26 h2V26 h2V24 h2V25 h2V26 h2V25 h2V25 h2V26 h2V26 h2V24 h2V27 h2V25 h2V27 h2V26 h2V26 h2V25 h2V26 h2V26 h2V27 h2V25 h2V25 h2V25 h2V25 h2V26 h2V26 h2V26 h2V27 h2V26 h2V27 h2V24 h2V26 h2V27 h2V24 h2V26 h2V25 h2V26 h2V27 h2V25 h2V26 h2V25 h2V26 h2V26 h2V25 h2V25 h2V26 h2V25 h2V27 h2V26 h2V26 h2V26 h2V24 h2V26 h2V26 h2V26 h2V27 h2V25 h2V26 h2V25 h2V25 h2V25 h2V25 h2V25 h2V31Z" fill="#008000"/></svg></td></tr>
<tr><td class="n"><span class="bd g2">联通</span><span class="nm">江苏宿迁</span></td><td class="ip">2402:4e00:1020:1404:0:9227:71ab:2b75</td><td>广东省广州市 (腾讯云)</td><td class="nu">0%</td><td class="nu">100</td><td class="nu">63</td><td class="d nu">60</td><td class="nu">46</td><td class="nu">94</td><td><svg class="sp" width="200" height="40"><path d="M2 31V26 h2V26 h2V26 h2V27 h2V26 h2V27 h2V27 h2V25 h2V26 h2V27 h2V27 h2V28 h2V27 h2V28 h2V27 h2V28 h2V28 h2V28 h2V27 h2V27 h2V27 h2V28 h2V28 h2V28 h2V27 h2V27 h2V28 h2V27 h2V27 h2V28 h2V28 h2V27 h2V28 h2V27 h2V28 h2V28 h2V28 h2V28 h2V27 h2V28 h2V27 h2V28 h2V28 h2V28 h2V27 h2V28 h2V28 h2V28 h2V28 h2V28 h2V28 h2V28 h2V27 h2V28 h2V28 h2V27 h2V27 h2V28 h2V28 h2V27 h2V27 h2V28 h2V28 h2V27 h2V27 h2V28 h2V27 h2V27 h2V27 h2V27 h2V27 h2V27 h2V27 h2V27 h2V27 h2V27 h2V27 h2V27 h2V28 h2V27 h2V27 h2V27 h2V27 h2V28 h2V27 h2V27 h2V28 h2V28 h2V27 h2V28 h2V28 h2V27 h2V27 h2V27 h2V28 h2V27 h2V28 h2V28 h2V28 h2V31Z" fill="#008000"/></svg></td></tr>
<tr><td class="n"><span class="bd g2">联通</span><span class="nm">山东枣庄</span></td><td class="ip">2402:4e00:1020:1404:0:9227:71ab:2b75</td><td>广东省广州市 (腾讯云)</td><td class="nu">0%</td><td class="nu">100</td><td class="nu">47</td><td class="d nu">49</td><td class="nu">31</td><td class="nu">79</td><td><svg class="sp" width="200" height="40"><path d="M2 31V28 h2V28 h2V28 h2V28 h2V28 h2V26 h2V26 h2V28 h2V28 h2V28 h2V27 h2V28 h2V28 h2V28 h2V27 h2V28 h2V28 h2V28 h2V27 h2V28 h2V28 h2V28 h2V28 h2V28 h2V28 h2V28 h2V29 h2V28 h2V28 h2V29 h2V28 h2V27 h2V27 h2V26 h2V28 h2V28 h2V28 h2V26 h2V28 h2V28 h2V28 h2V28 h2V27 h2V28 h2V28 h2V28 h2V28 h2V28 h2V28 h2V28 h2V26 h2V27 h2V28 h2V28 h2V28 h2V29 h2V28 h2V28 h2V28 h2V28 h2V28 h2V28 h2V28 h2V28 h2V28 h2V28 h2V28 h2V28 h2V28 h2V28 h2V28 h2V28 h2V28 h2V28 h2V28 h2V28 h2V27 h2V28 h2V28 h2V28 h2V27 h2V28 h2V27 h2V27 h2V28 h2V28 h2V28 h2V28 h2V28 h2V28 h2V28 h2V28 h2V27 h2V28 h2V28 h2V28 h2V28 h2V27 h2V28 h2V31Z" fill="#008000"/></svg></td></tr>
<tr><td class="n"><span class="bd g2">联通</span><span class="nm">河北石家庄</span></td><td class="ip">2402:4e00:1020:1404:0:9227:71ab:2b75</td><td>广东省广州市 (腾讯云)</td><td class="nu">0%</td><td class="nu">100</td><td class="nu">47</td><td class="d nu">49</td><td class="nu">31</td><td class="nu">79</td><td><svg class="sp" width="200" height="40"><path d="M2 31V28 h2V28 h2V28 h2V28 h2V28 h2V26 h2V26 h2V28 h2V28 h2V28 h2V27 h2V28 h2V28 h2V28 h2V27 h2V28 h2V28 h2V28 h2V27 h2V28 h2V28 h2V28 h2V28 h2V28 h2V28 h2V28 h2V29 h2V28 h2V28 h2V29 h2V28 h2V27 h2V27 h2V26 h2V28 h2V28 h2V28 h2V26 h2V28 h2V28 h2V28 h2V28 h2V27 h2V28 h2V28 h2V28 h2V28 h2V28 h2V28 h2V28 h2V26 h2V27 h2V28 h2V28 h2V28 h2V29 h2V28 h2V28 h2V28 h2V28 h2V28 h2V28 h2V28 h2V28 h2V28 h2V28 h2V28 h2V28 h2V28 h2V28 h2V28 h2V28 h2V28 h2V28 h2V28 h2V28 h2V27 h2V28 h2V28 h2V28 h2V27 h2V28 h2V27 h2V27 h2V28 h2V28 h2V28 h2V28 h2V28 h2V28 h2V28 h2V28 h2V27 h2V28 h2V28 h2V28 h2V28 h2V27 h2V28 h2V31Z" fill="#008000"/></svg></td></tr>
<tr><td class="n"><span class="bd g2">联通</span><span class="nm">安徽芜湖</span></td><td class="ip">2402:4e00:1020:1404:0:9227:71ab:2b75</td><td>广东省广州市 (腾讯云)</td><td class="nu">0%</td><td class="nu">100</td><td class="nu">47</td><td class="d nu">49</td><td class="nu">31</td><td class="nu">79</td><td><svg class="sp" width="200" height="40"><path d="M2 31V28 h2V28 h2V28 h2V28 h2V28 h2V26 h2V26 h2V28 h2V28 h2V28 h2V27 h2V28 h2V28 h2V28 h2V27 h2V28 h2V28 h2V28 h2V27 h2V28 h2V28 h2V28 h2V28 h2V28 h2V28 h2V28 h2V29 h2V28 h2V28 h2V29 h2V28 h2V27 h2V27 h2V26 h2V28 h2V28 h2V28 h2V26 h2V28 h2V28 h2V28 h2V28 h2V27 h2V28 h2V28 h2V28 h2V28 h2V28 h2V28 h2V28 h2V26 h2V27 h2V28 h2V28 h2V28 h2V29 h2V28 h2V28 h2V28 h2V28 h2V28 h2V28 h2V28 h2V28 h2V28 h2V28 h2V28 h2V28 h2V28 h2V28 h2V28 h2V28 h2V28 h2V28 h2V28 h2V28 h2V27 h2V28 h2V28 h2V28 h2V27 h2V28 h2V27 h2V27 h2V28 h2V28 h2V28 h2V28 h2V28 h2V28 h2V28 h2V28 h2V27 h2V28 h2V28 h2V28 h2V28 h2V27 h2V28 h2V31Z" fill="#008000"/></svg></td></tr>
<tr><td class="n"><span class="bd g2">联通</span><span class="nm">山东青岛</span></td><td class="ip">2402:4e00:1020:1404:0:9227:71ab:2b75</td><td>广东省广州市 (腾讯云)</td><td class="nu">0%</td><td class="nu">100</td><td class="nu">47</td><td class="d nu">49</td><td class="nu">31</td><td class="nu">79</td><td><svg class="sp" width="200" height="40"><path d="M2 31V28 h2V28 h2V28 h2V28 h2V28 h2V26 h2V26 h2V28 h2V28 h2V28 h2V27 h2V28 h2V28 h2V28 h2V27 h2V28 h2V28 h2V28 h2V27 h2V28 h2V28 h2V28 h2V28 h2V28 h2V28 h2V28 h2V29 h2V28 h2V28 h2V29 h2V28 h2V27 h2V27 h2V26 h2V28 h2V28 h2V28 h2V26 h2V28 h2V28 h2V28 h2V28 h2V27 h2V28 h2V28 h2V28 h2V28 h2V28 h2V28 h2V28 h2V26 h2V27 h2V28 h2V28 h2V28 h2V29 h2V28 h2V28 h2V28 h2V28 h2V28 h2V28 h2V28 h2V28 h2V28 h2V28 h2V28 h2V28 h2V28 h2V28 h2V28 h2V28 h2V28 h2V28 h2V28 h2V28 h2V27 h2V28 h2V28 h2V28 h2V27 h2V28 h2V27 h2V27 h2V28 h2V28 h2V28 h2V28 h2V28 h2V28 h2V28 h2V28 h2V27 h2V28 h2V28 h2V28 h2V28 h2V27 h2V28 h2V31Z" fill="#008000"/></svg></td></tr>
<tr><td class="n"><span class="bd g3">移动</span><span class="nm">江苏连云港</span></td><td class="ip">2402:4e00:1020:1404:0:9227:71ab:2b76</td><td>广东省广州市 (腾讯云)</td><td class="nu">0%</td><td class="nu">100</td><td class="nu">46</td><td class="d nu">43</td><td class="nu">31</td><td class="nu">47</td><td><svg class="sp" width="200" height="40"><path d="M2 31V29 h2V29 h2V28 h2V28 h2V28 h2V28 h2V29 h2V28 h2V28 h2V29 h2V28 h2V28 h2V28 h2V28 h2V29 h2V28 h2V28 h2V28 h2V28 h2V28 h2V28 h2V28 h2V28 h2V28 h2V28 h2V28 h2V28 h2V28 h2V29 h2V29 h2V28 h2V28 h2V29 h2V28 h2V29 h2V28 h2V29 h2V28 h2V28 h2V29 h2V28 h2V28 h2V29 h2V29 h2V28 h2V28 h2V28 h2V28 h2V28 h2V28 h2V28 h2V28 h2V28 h2V28 h2V29 h2V28 h2V28 h2V28 h2V28 h2V28 h2V28 h2V28 h2V28 h2V28 h2V29 h2V28 h2V29 h2V29 h2V29 h2V28 h2V28 h2V28 h2V28 h2V28 h2V29 h2V28 h2V28 h2V28 h2V28 h2V28 h2V28 h2V29 h2V28 h2V28 h2V28 h2V29 h2V28 h2V29 h2V28 h2V28 h2V28 h2V28 h2V28 h2V28 h2V28 h2V28 h2V28 h2V28 h2V28 h2V31Z" fill="#008000"/></svg></td></tr>
<tr><td class="n"><span class="bd g3">移动</span><span class="nm">浙江余姚</span></td><td class="ip">2402:4e00:1020:1404:0:9227:71ab:2b76</td><td>广东省广州市 (腾讯云)</td><td class="nu">0%</td><td class="nu">100</td><td class="nu">46</td><td class="d nu">43</td><td class="nu">31</td><td class="nu">47</td><td><svg class="sp" width="200" height="40"><path d="M2 31V29 h2V29 h2V28 h2V28 h2V28 h2V28 h2V29 h2V28 h2V28 h2V29 h2V28 h2V28 h2V28 h2V28 h2V29 h2V28 h2V28 h2V28 h2V28 h2V28 h2V28 h2V28 h2V28 h2V28 h2V28 h2V28 h2V28 h2V28 h2V29 h2V29 h2V28 h2V28 h2V29 h2V28 h2V29 h2V28 h2V29 h2V28 h2V28 h2V29 h2V28 h2V28 h2V29 h2V29 h2V28 h2V28 h2V28 h2V28 h2V28 h2V28 h2V28 h2V28 h2V28 h2V28 h2V29 h2V28 h2V28 h2V28 h2V28 h2V28 h2V28 h2V28 h2V28 h2V28 h2V29 h2V28 h2V29 h2V29 h2V29 h2V28 h2V28 h2V28 h2V28 h2V28 h2V29 h2V28 h2V28 h2V28 h2V28 h2V28 h2V28 h2V29 h2V28 h2V28 h2V28 h2V29 h2V28 h2V29 h2V28 h2V28 h2V28 h2V28 h2V28 h2V28 h2V28 h2V28 h2V28 h2V28 h2V28 h2V31Z" fill="#008000"/></svg></td></tr>
<tr><td class="n"><span class="bd g3">移动</span><span class="nm">四川绵阳</span></td><td class="ip">2402:4e00:1020:1404:0:9227:71ab:2b76</td><td>广东省广州市 (腾讯云)</td><td class="nu">0%</td><td class="nu">100</td><td class="nu">46</td><td class="d nu">43</td><td class="nu">31</td><td class="nu">47</td><td><svg class="sp" width="200" height="40"><path d="M2 31V29 h2V29 h2V28 h2V28 h2V28 h2V28 h2V29 h2V28 h2V28 h2V29 h2V28 h2V28 h2V28 h2V28 h2V29 h2V28 h2V28 h2V28 h2V28 h2V28 h2V28 h2V28 h2V28 h2V28 h2V28 h2V28 h2V28 h2V28 h2V29 h2V29 h2V28 h2V28 h2V29 h2V28 h2V29 h2V28 h2V29 h2V28 h2V28 h2V29 h2V28 h2V28 h2V29 h2V29 h2V28 h2V28 h2V28 h2V28 h2V28 h2V28 h2V28 h2V28 h2V28 h2V28 h2V29 h2V28 h2V28 h2V28 h2V28 h2V28 h2V28 h2V28 h2V28 h2V28 h2V29 h2V28 h2V29 h2V29 h2V29 h2V28 h2V28 h2V28 h2V28 h2V28 h2V29 h2V28 h2V28 h2V28 h2V28 h2V28 h2V28 h2V29 h2V28 h2V28 h2V28 h2V29 h2V28 h2V29 h2V28 h2V28 h2V28 h2V28 h2V28 h2V28 h2V28 h2V28 h2V28 h2V28 h2V28 h2V31Z" fill="#008000"/></svg></td></tr>
<tr><td class="n"><span class="bd g3">移动</span><span class="nm">广东东莞</span></td><td class="ip">2402:4e00:1020:1404:0:9227:71ab:2b76</td><td>广东省广州市 (腾讯云)</td><td class="nu">0%</td><td class="nu">100</td><td class="nu">46</td><td class="d nu">43</td><td class="nu">31</td><td class="nu">47</td><td><svg class="sp" width="200" height="40"><path d="M2 31V29 h2V29 h2V28 h2V28 h2V28 h2V28 h2V29 h2V28 h2V28 h2V29 h2V28 h2V28 h2V28 h2V28 h2V29 h2V28 h2V28 h2V28 h2V28 h2V28 h2V28 h2V28 h2V28 h2V28 h2V28 h2V28 h2V28 h2V28 h2V29 h2V29 h2V28 h2V28 h2V29 h2V28 h2V29 h2V28 h2V29 h2V28 h2V28 h2V29 h2V28 h2V28 h2V29 h2V29 h2V28 h2V28 h2V28 h2V28 h2V28 h2V28 h2V28 h2V28 h2V28 h2V28 h2V29 h2V28 h2V28 h2V28 h2V28 h2V28 h2V28 h2V28 h2V28 h2V28 h2V29 h2V28 h2V29 h2V29 h2V29 h2V28 h2V28 h2V28 h2V28 h2V28 h2V29 h2V28 h2V28 h2V28 h2V28 h2V28 h2V28 h2V29 h2V28 h2V28 h2V28 h2V29 h2V28 h2V29 h2V28 h2V28 h2V28 h2V28 h2V28 h2V28 h2V28 h2V28 h2V28 h2V28 h2V28 h2V31Z" fill="#008000"/></svg></td></tr>
<tr><td class="n"><span class="bd g3">移动</span><span class="nm">云南昆明</span></td><td class="ip">2402:4e00:1020:1404:0:9227:71ab:2b76</td><td>广东省广州市 (腾讯云)</td><td class="nu">0%</td><td class="nu">100</td><td class="nu">46</td><td class="d nu">43</td><td class="nu">31</td><td class="nu">47</td><td><svg class="sp" width="200" height="40"><path d="M2 31V29 h2V29 h2V28 h2V28 h2V28 h2V28 h2V29 h2V28 h2V28 h2V29 h2V28 h2V28 h2V28 h2V28 h2V29 h2V28 h2V28 h2V28 h2V28 h2V28 h2V28 h2V28 h2V28 h2V28 h2V28 h2V28 h2V28 h2V28 h2V29 h2V29 h2V28 h2V28 h2V29 h2V28 h2V29 h2V28 h2V29 h2V28 h2V28 h2V29 h2V28 h2V28 h2V29 h2V29 h2V28 h2V28 h2V28 h2V28 h2V28 h2V28 h2V28 h2V28 h2V28 h2V28 h2V29 h2V28 h2V28 h2V28 h2V28 h2V28 h2V28 h2V28 h2V28 h2V28 h2V29 h2V28 h2V29 h2V29 h2V29 h2V28 h2V28 h2V28 h2V28 h2V28 h2V29 h2V28 h2V28 h2V28 h2V28 h2V28 h2V28 h2V29 h2V28 h2V28 h2V28 h2V29 h2V28 h2V29 h2V28 h2V28 h2V28 h2V28 h2V28 h2V28 h2V28 h2V28 h2V28 h2V28 h2V28 h2V31Z" fill="#008000"/></svg></td></tr>
<tr><td class="n"><span class="bd g4">多线</span><span class="nm">阿里云-成都</span></td><td class="ip">2402:4e00:1020:1404:0:9227:71ab:2b77</td><td>广东省广州市 (腾讯云)</td><td class="nu">0%</td><td class="nu">100</td><td class="nu">16</td><td class="d nu">28</td><td class="nu">15</td><td class="nu">47</td><td><svg class="sp" width="200" height="40"><path d="M2 31V29 h2V29 h2V29 h2V29 h2V29 h2V28 h2V29 h2V28 h2V28 h2V29 h2V29 h2V29 h2V28 h2V28 h2V28 h2V28 h2V28 h2V29 h2V29 h2V29 h2V29 h2V29 h2V29 h2V29 h2V29 h2V29 h2V30 h2V30 h2V30 h2V29 h2V30 h2V30 h2V30 h2V30 h2V30 h2V30 h2V29 h2V29 h2V29 h2V30 h2V30 h2V30 h2V29 h2V29 h2V30 h2V30 h2V30 h2V30 h2V29 h2V29 h2V29 h2V29 h2V29 h2V29 h2V29 h2V30 h2V30 h2V30 h2V29 h2V29 h2V29 h2V29 h2V30 h2V29 h2V30 h2V29 h2V29 h2V30 h2V30 h2V29 h2V30 h2V29 h2V30 h2V29 h2V29 h2V30 h2V29 h2V29 h2V30 h2V30 h2V29 h2V29 h2V30 h2V29 h2V29 h2V29 h2V30 h2V29 h2V29 h2V29 h2V30 h2V30 h2V29 h2V30 h2V29 h2V30 h2V29 h2V30 h2V30 h2V31Z" fill="#008000"/></svg></td></tr>
<tr><td class="n"><span class="bd g4">多线</span><span class="nm">阿里云-贵阳</span></td><td class="ip">2402:4e00:1020:1404:0:9227:71ab:2b77</td><td>广东省广州市 (腾讯云)</td><td class="nu">100%</td><td class="nu">100</td><td class="nu">超时</td><td class="d nu">--</td><td class="nu">--</td><td class="nu">--</td><td><svg class="sp" width="200" height="40"><rect x="0" y="11" width="200" height="20" fill="#f00"/></svg></td></tr>
<tr><td class="n"><span class="bd g4">多线</span><span class="nm">腾讯云-北京</span></td><td class="ip">2402:4e00:1020:1404:0:9227:71ab:2b77</td><td>广东省广州市 (腾讯云)</td><td class="nu">0%</td><td class="nu">100</td><td class="nu">16</td><td class="d nu">28</td><td class="nu">15</td><td class="nu">47</td><td><svg class="sp" width="200" height="40"><path d="M2 31V29 h2V29 h2V29 h2V29 h2V29 h2V28 h2V29 h2V28 h2V28 h2V29 h2V29 h2V29 h2V28 h2V28 h2V28 h2V28 h2V28 h2V29 h2V29 h2V29 h2V29 h2V29 h2V29 h2V29 h2V29 h2V29 h2V30 h2V30 h2V30 h2V29 h2V30 h2V30 h2V30 h2V30 h2V30 h2V30 h2V29 h2V29 h2V29 h2V30 h2V30 h2V30 h2V29 h2V29 h2V30 h2V30 h2V30 h2V30 h2V29 h2V29 h2V29 h2V29 h2V29 h2V29 h2V29 h2V30 h2V30 h2V30 h2V29 h2V29 h2V29 h2V29 h2V30 h2V29 h2V30 h2V29 h2V29 h2V30 h2V30 h2V29 h2V30 h2V29 h2V30 h2V29 h2V29 h2V30 h2V29 h2V29 h2V30 h2V30 h2V29 h2V29 h2V30 h2V29 h2V29 h2V29 h2V30 h2V29 h2V29 h2V29 h2V30 h2V30 h2V29 h2V30 h2V29 h2V30 h2V29 h2V30 h2V30 h2V31Z" fill="#008000"/></svg></td></tr>
<tr><td class="n"><span class="bd g4">多线</span><span class="nm">腾讯云-上海</span></td><td class="ip">2402:4e00:1020:1404:0:9227:71ab:2b77</td><td>广东省广州市 (腾讯云)</td><td class="nu">8%</td><td class="nu">100</td><td class="nu">296</td><td class="d nu">500</td><td class="nu">281</td><td class="nu">1719</td><td><svg class="sp" width="200" height="40"><path d="M2 31V11 h2V11 h2V11 h2V12 h2V11 h2V12 h2V12 h2V11 h2V11 h2V11 h2V12 h2V12 h2V11 h2V13 h2V13 h2V12 h2V11 h2V12 h2V11 h2V11 h2V11 h2V12 h2V12 h2V11 h2V11 h2V11 h2V11 h2V11 h2V11 h2V11 h2V11 h2V12 h2V12 h2V11 h2V12 h2V12 h2V11 h2V12 h2V11 h2V12 h2V12 h2V11 h2V11 h2V12 h2V12 h2V11 h2V12 h2V11 h2V11 h2V12 h2V12 h2V12 h2V12 h2V11 h2V12 h2V12 h2V12 h2V11 h2V11 h2V11 h2V12 h2V11 h2V11 h2V12 h2V11 h2V12 h2V12 h2V11 h2V11 h2V12 h2V12 h2V11 h2V11 h2V11 h2V12 h2V12 h2V12 h2V12 h2V12 h2V11 h2V12 h2V12 h2V12 h2V11 h2V11 h2V11 h2V12 h2V11 h2V11 h2V11 h2V11 h2V11 h2V11 h2V12 h2V11 h2V11 h2V11 h2V12 h2V11 h2V31Z" fill="#008000"/><rect x="2" y="11" width="2" height="20" fill="#ffa500"/><rect x="16" y="11" width="2" height="20" fill="#ffa500"/><rect x="18" y="11" width="2" height="20" fill="#ffa500"/><rect x="20" y="11" width="2" height="20" fill="#ffa500"/><rect x="34" y="11" width="2" height="20" fill="#ffa500"/><rect x="38" y="11" width="2" height="20" fill="#ffa500"/><rect x="50" y="11" width="2" height="20" fill="#ffa500"/><rect x="54" y="11" width="2" height="20" fill="#ffa500"/><rect x="56" y="11" width="2" height="20" fill="#ffa500"/><rect x="60" y="11" width="2" height="20" fill="#ffa500"/><rect x="68" y="11" width="2" height="20" fill="#ffa500"/><rect x="120" y="11" width="2" height="20" fill="#ffa500"/><rect x="126" y="11" width="2" height="20" fill="#ffa500"/><rect x="136" y="11" width="2" height="20" fill="#ffa500"/><rect x="182" y="11" width="2" height="20" fill="#ffa500"/><rect x="6" y="11" width="2" height="20" fill="#f00"/><rect x="42" y="11" width="2" height="20" fill="#f00"/><rect x="92" y="11" width="2" height="20" fill="#f00"/><rect x="98" y="11" width="2" height="20" fill="#f00"/><rect x="118" y="11" width="2" height="20" fill="#f00"/><rect x="160" y="11" width="2" height="20" fill="#f00"/><rect x="180" y="11" width="2" height="20" fill="#f00"/><rect x="198" y="11" width="2" height="20" fill="#f00"/></svg></td></tr>
<tr><td class="n"><span class="bd g4">多线</span><span class="nm">阿里云-深圳</span></td><td class="ip">2402:4e00:1020:1404:0:9227:71ab:2b77</td><td>广东省广州市 (腾讯云)</td><td class="nu">0%</td><td class="nu">100</td><td class="nu">16</td><td class="d nu">28</td><td class="nu">15</td><td class="nu">47</td><td><svg class="sp" width="200" height="40"><path d="M2 31V29 h2V29 h2V29 h2V29 h2V29 h2V28 h2V29 h2V28 h2V28 h2V29 h2V29 h2V29 h2V28 h2V28 h2V28 h2V28 h2V28 h2V29 h2V29 h2V29 h2V29 h2V29 h2V29 h2V29 h2V29 h2V29 h2V30 h2V30 h2V30 h2V29 h2V30 h2V30 h2V30 h2V30 h2V30 h2V30 h2V29 h2V29 h2V29 h2V30 h2V30 h2V30 h2V29 h2V29 h2V30 h2V30 h2V30 h2V30 h2V29 h2V29 h2V29 h2V29 h2V29 h2V29 h2V29 h2V30 h2V30 h2V30 h2V29 h2V29 h2V29 h2V29 h2V30 h2V29 h2V30 h2V29 h2V29 h2V30 h2V30 h2V29 h2V30 h2V29 h2V30 h2V29 h2V29 h2V30 h2V29 h2V29 h2V30 h2V30 h2V29 h2V29 h2V30 h2V29 h2V29 h2V29 h2V30 h2V29 h2V29 h2V29 h2V30 h2V30 h2V29 h2V30 h2V29 h2V30 h2V29 h2V30 h2V30 h2V31Z" fill="#008000"/></svg></td></tr>
<tr><td class="n"><span class="bd g5">海外</span><span class="nm">新加坡</span></td><td class="ip">2402:4e00:1020:1404:0:9227:71ab:2b78</td><td>广东省广州市 (腾讯云)</td><td class="nu">100%</td><td class="nu">100</td><td class="nu">超时</td><td class="d nu">--</td><td class="nu">--</td><td class="nu">--</td><td><svg class="sp" width="200" height="40"><rect x="0" y="11" width="200" height="20" fill="#f00"/></svg></td></tr>
<tr><td class="n"><span class="bd g5">海外</span><span class="nm">中国香港</span></td><td class="ip">2402:4e00:1020:1404:0:9227:71ab:2b78</td><td>广东省广州市 (腾讯云)</td><td class="nu">0%</td><td class="nu">100</td><td class="nu">16</td><td class="d nu">4</td><td class="nu">&lt;1</td><td class="nu">16</td><td><svg class="sp" width="200" height="40"><rect x="2" y="30" width="198" height="1" fill="#008000"/></svg></td></tr>
<tr><td class="n"><span class="bd g5">海外</span><span class="nm">日本东京</span></td><td class="ip">2402:4e00:1020:1404:0:9227:71ab:2b78</td><td>广东省广州市 (腾讯云)</td><td class="nu">0%</td><td class="nu">100</td><td class="nu">47</td><td class="d nu">38</td><td class="nu">31</td><td class="nu">47</td><td><svg class="sp" width="200" height="40"><path d="M2 31V29 h2V29 h2V28 h2V29 h2V29 h2V28 h2V29 h2V29 h2V28 h2V29 h2V28 h2V29 h2V29 h2V29 h2V29 h2V28 h2V29 h2V28 h2V28 h2V29 h2V28 h2V28 h2V29 h2V28 h2V28 h2V28 h2V29 h2V28 h2V28 h2V29 h2V28 h2V29 h2V29 h2V29 h2V28 h2V28 h2V28 h2V28 h2V28 h2V28 h2V29 h2V28 h2V28 h2V28 h2V28 h2V29 h2V29 h2V29 h2V29 h2V29 h2V29 h2V28 h2V29 h2V28 h2V29 h2V28 h2V29 h2V29 h2V29 h2V28 h2V29 h2V29 h2V29 h2V28 h2V28 h2V29 h2V29 h2V29 h2V29 h2V29 h2V29 h2V28 h2V29 h2V29 h2V28 h2V28 h2V28 h2V29 h2V29 h2V28 h2V29 h2V28 h2V29 h2V28 h2V28 h2V28 h2V29 h2V28 h2V29 h2V28 h2V28 h2V28 h2V29 h2V29 h2V28 h2V28 h2V29 h2V28 h2V28 h2V31Z" fill="#008000"/></svg></td></tr>
<tr><td class="n"><span class="bd g5">海外</span><span class="nm">美国圣何塞</span></td><td class="ip">2402:4e00:1020:1404:0:9227:71ab:2b78</td><td>广东省广州市 (腾讯云)</td><td class="nu">0%</td><td class="nu">100</td><td class="nu">188</td><td class="d nu">194</td><td class="nu">187</td><td class="nu">204</td><td><svg class="sp" width="200" height="40"><path d="M2 31V19 h2V19 h2V18 h2V18 h2V19 h2V18 h2V18 h2V18 h2V19 h2V19 h2V19 h2V19 h2V19 h2V18 h2V18 h2V19 h2V19 h2V19 h2V18 h2V19 h2V18 h2V19 h2V18 h2V18 h2V19 h2V19 h2V18 h2V18 h2V18 h2V18 h2V18 h2V18 h2V19 h2V19 h2V18 h2V18 h2V19 h2V19 h2V19 h2V18 h2V19 h2V19 h2V18 h2V19 h2V19 h2V18 h2V18 h2V18 h2V18 h2V18 h2V19 h2V19 h2V18 h2V18 h2V19 h2V19 h2V18 h2V19 h2V18 h2V19 h2V19 h2V19 h2V19 h2V18 h2V19 h2V19 h2V18 h2V19 h2V18 h2V19 h2V18 h2V18 h2V18 h2V19 h2V19 h2V19 h2V19 h2V18 h2V18 h2V19 h2V19 h2V19 h2V18 h2V19 h2V19 h2V18 h2V18 h2V18 h2V18 h2V18 h2V19 h2V19 h2V18 h2V18 h2V18 h2V19 h2V19 h2V18 h2V19 h2V31Z" fill="#008000"/></svg></td></tr>
<tr><td class="n"><span class="bd g5">海外</span><span class="nm">马来西亚</span></td><td class="ip">2402:4e00:1020:1404:0:9227:71ab:2b78</td><td>广东省广州市 (腾讯云)</td><td class="nu">0%</td><td class="nu">100</td><td class="nu">47</td><td class="d nu">38</td><td class="nu">31</td><td class="nu">47</td><td><svg class="sp" width="200" height="40"><path d="M2 31V29 h2V29 h2V28 h2V29 h2V29 h2V28 h2V29 h2V29 h2V28 h2V29 h2V28 h2V29 h2V29 h2V29 h2V29 h2V28 h2V29 h2V28 h2V28 h2V29 h2V28 h2V28 h2V29 h2V28 h2V28 h2V28 h2V29 h2V28 h2V28 h2V29 h2V28 h2V29 h2V29 h2V29 h2V28 h2V28 h2V28 h2V28 h2V28 h2V28 h2V29 h2V28 h2V28 h2V28 h2V28 h2V29 h2V29 h2V29 h2V29 h2V29 h2V29 h2V28 h2V29 h2V28 h2V29 h2V28 h2V29 h2V29 h2V29 h2V28 h2V29 h2V29 h2V29 h2V28 h2V28 h2V29 h2V29 h2V29 h2V29 h2V29 h2V29 h2V28 h2V29 h2V29 h2V28 h2V28 h2V28 h2V29 h2V29 h2V28 h2V29 h2V28 h2V29 h2V28 h2V28 h2V28 h2V29 h2V28 h2V29 h2V28 h2V28 h2V28 h2V29 h2V29 h2V28 h2V28 h2V29 h2V28 h2V28 h2V31Z" fill="#008000"/></svg></td></tr>
</table></div></div>
</body></html>
